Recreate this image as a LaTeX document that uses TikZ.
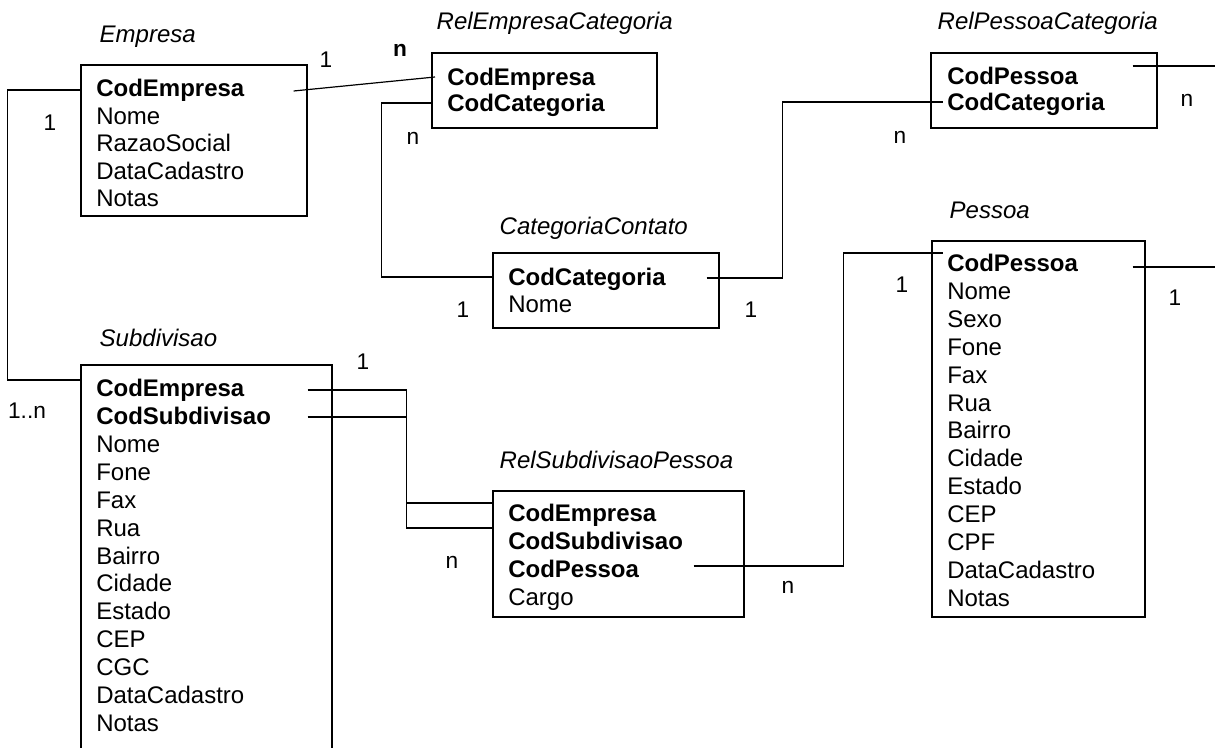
\documentclass[tikz,border=0pt]{standalone}
\usepackage{fontspec}
\setmainfont{Liberation Sans}
\usetikzlibrary{calc, fit}

\tikzset{
  table/.style={draw, line width=0.9pt, inner sep=0pt},
  title/.style={anchor=west, font=\fontsize{18}{21}\selectfont\itshape},
  field/.style={anchor=west, inner sep=0pt, text height=12.9pt, text depth=0pt,
    font=\fontsize{18}{21}\selectfont},
  key/.style={field, font=\fontsize{18}{21}\selectfont\bfseries},
  card/.style={font=\fontsize{17}{20}\selectfont},
  link/.style={line width=0.9pt}
}

\begin{document}
\begin{tikzpicture}[x=0.75pt, y=-0.75pt]
        \useasboundingbox (0,0) rectangle (1215,748);

        % Empresa
        \node[title] (emp-t) at (95,37) {Empresa};
        \node[table, fit={(81,65) (307,216)}] (emp) {};
        \node[key]   (emp-1) at (96,88)    {CodEmpresa};
        \node[field] (emp-2) at (96,115.5) {Nome};
        \node[field] (emp-3) at (96,143)   {RazaoSocial};
        \node[field] (emp-4) at (96,170.5) {DataCadastro};
        \node[field] (emp-5) at (96,198)   {Notas};

        % RelEmpresaCategoria
        \node[title] (rec-t) at (432,23) {RelEmpresaCategoria};
        \node[table, fit={(432,53) (657,128)}] (rec) {};
        \node[key] (rec-1) at (447,77)  {CodEmpresa};
        \node[key] (rec-2) at (447,103) {CodCategoria};

        % RelPessoaCategoria
        \node[title] (rpc-t) at (933,23) {RelPessoaCategoria};
        \node[table, fit={(931,53) (1157,128)}] (rpc) {};
        \node[key] (rpc-1) at (947,76)  {CodPessoa};
        \node[key] (rpc-2) at (947,102) {CodCategoria};

        % CategoriaContato
        \node[title] (cat-t) at (495,228) {CategoriaContato};
        \node[table, fit={(493,253) (719,328)}] (cat) {};
        \node[key]   (cat-1) at (508,277) {CodCategoria};
        \node[field] (cat-2) at (508,304) {Nome};

        % Pessoa
        \node[title] (pes-t) at (945,210) {Pessoa};
        \node[table, fit={(932,241) (1145,617)}] (pes) {};
        \node[key]   (pes-1)  at (947,263) {CodPessoa};
        \node[field] (pes-2)  at (947,291) {Nome};
        \node[field] (pes-3)  at (947,319) {Sexo};
        \node[field] (pes-4)  at (947,347) {Fone};
        \node[field] (pes-5)  at (947,375) {Fax};
        \node[field] (pes-6)  at (947,403) {Rua};
        \node[field] (pes-7)  at (947,430) {Bairro};
        \node[field] (pes-8)  at (947,458) {Cidade};
        \node[field] (pes-9)  at (947,486) {Estado};
        \node[field] (pes-10) at (947,514) {CEP};
        \node[field] (pes-11) at (947,542) {CPF};
        \node[field] (pes-12) at (947,570) {DataCadastro};
        \node[field] (pes-13) at (947,598) {Notas};

        % Subdivisao (runs past the bottom edge)
        \node[title] (sub-t) at (95,338) {Subdivisao};
        \node[table, fit={(81,365) (332,758)}] (sub) {};
        \node[key]   (sub-1)  at (96,388) {CodEmpresa};
        \node[key]   (sub-2)  at (96,416) {CodSubdivisao};
        \node[field] (sub-3)  at (96,444) {Nome};
        \node[field] (sub-4)  at (96,472) {Fone};
        \node[field] (sub-5)  at (96,500) {Fax};
        \node[field] (sub-6)  at (96,528) {Rua};
        \node[field] (sub-7)  at (96,556) {Bairro};
        \node[field] (sub-8)  at (96,583) {Cidade};
        \node[field] (sub-9)  at (96,611) {Estado};
        \node[field] (sub-10) at (96,639) {CEP};
        \node[field] (sub-11) at (96,667) {CGC};
        \node[field] (sub-12) at (96,695) {DataCadastro};
        \node[field] (sub-13) at (96,723) {Notas};

        % RelSubdivisaoPessoa
        \node[title] (rsp-t) at (495,460) {RelSubdivisaoPessoa};
        \node[table, fit={(493,491) (744,617)}] (rsp) {};
        \node[key]   (rsp-1) at (508,513) {CodEmpresa};
        \node[key]   (rsp-2) at (508,541) {CodSubdivisao};
        \node[key]   (rsp-3) at (508,569) {CodPessoa};
        \node[field] (rsp-4) at (508,597) {Cargo};

        % Free ends on the right border
        \coordinate (rpc-out) at (1215,66);
        \coordinate (pes-out) at (1215,267);

        % Relationships
        \draw[link] ($(emp.east |- emp-1)+(-14,3)$) -- ([xshift=-9pt]rec-1.west);
        \draw[link] ($(emp.west |- emp-1)+(0,2)$) -- ++(-73,0) |- ($(sub.west |- sub-1)+(0,-8)$);
        \draw[link] (rec.west |- rec-2) -- ++(-50,0) |- (cat.west |- cat-1);
        \draw[link] ($(cat.east |- cat-1)+(-13,1)$) -- ++(76,0) |- ([xshift=-3pt]rpc-2.west);
        \draw[link] ($(rpc.east |- rpc-1)+(-25,-10)$) -- (rpc-out);
        \draw[link] ($(pes.east |- pes-1)+(-13,4)$) -- (pes-out);
        \draw[link] ($(rsp.east |- rsp-3)+(-51,-3)$) -- ++(150,0) |- ($(pes-1.west)+(-4,-10)$);
        \draw[link] ($(sub.east |- sub-1)+(-25,2)$) -- ++(99,0) |- ($(rsp.west |- rsp-1)+(0,-10)$);
        \draw[link] ($(sub.east |- sub-2)+(-25,1)$) -- ++(99,0) |- ($(rsp.west |- rsp-2)+(0,-13)$);

        % Cardinalities
        \node[card] (c1)  at (326,60)  {1};
        \node[card, font=\fontsize{17}{20}\selectfont\bfseries] (c2) at (400,50) {n};
        \node[card] (c3)  at (50,123)  {1};
        \node[card] (c4)  at (413,138) {n};
        \node[card] (c5)  at (900,137) {n};
        \node[card] (c6)  at (1187,100) {n};
        \node[card] (c7)  at (463,310) {1};
        \node[card] (c8)  at (751,310) {1};
        \node[card] (c9)  at (902,285) {1};
        \node[card] (c10) at (1175,298) {1};
        \node[card] (c11) at (363,362) {1};
        \node[card] (c12) at (27,411)  {1..n};
        \node[card] (c13) at (452,562) {n};
        \node[card] (c14) at (788,587) {n};
\end{tikzpicture}
\end{document}
